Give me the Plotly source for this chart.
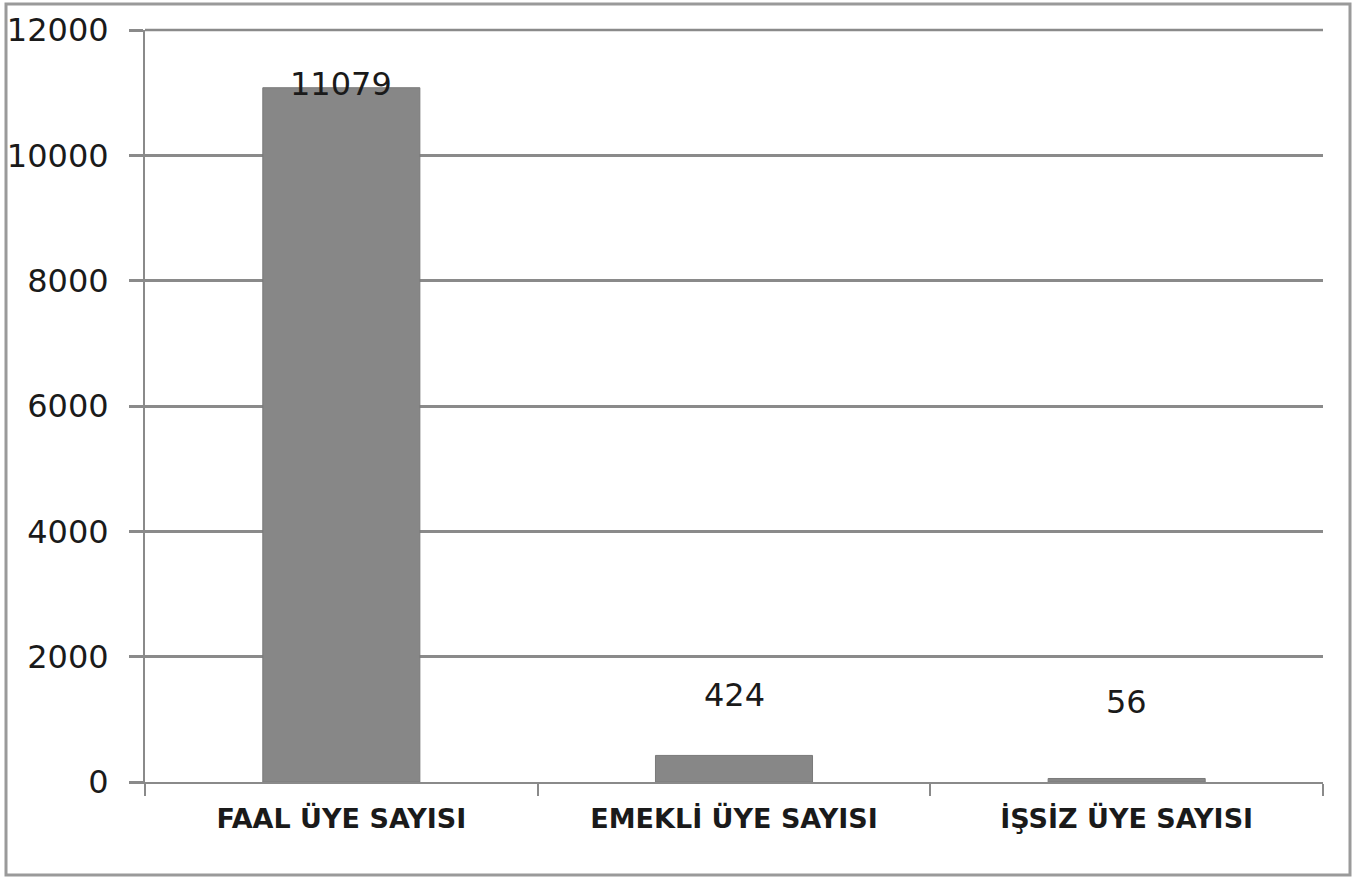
import plotly.graph_objects as go

categories = ["FAAL ÜYE SAYISI", "EMEKLİ ÜYE SAYISI", "İŞSİZ ÜYE SAYISI"]
values = [11079, 424, 56]
y_ticks = [0, 2000, 4000, 6000, 8000, 10000, 12000]

label_shift = [4, 60, 76]

W, H = 1358, 877
ML, MR, MT, MB = 145, 35, 30, 95
pw, ph = W - ML - MR, H - MT - MB

fig = go.Figure()
fig.add_trace(go.Bar(
    x=categories, y=values,
    marker=dict(color="#878787", line=dict(color="#7a7a7a", width=1)),
    width=0.4,
    showlegend=False,
))

for c, v, s in zip(categories, values, label_shift):
    fig.add_annotation(x=c, y=v, text=str(v), showarrow=False,
                       yanchor="middle", yshift=s,
                       font=dict(family="DejaVu Sans", size=32, color="#1a1a1a"))

def px_x(px):
    return (px - ML) / pw

def px_y(py):
    return (H - MB - py) / ph

fig.add_shape(type="rect", xref="paper", yref="paper",
              x0=px_x(6), x1=px_x(1350), y0=px_y(875), y1=px_y(4),
              line=dict(color="#9a9a9a", width=3), fillcolor="rgba(0,0,0,0)",
              layer="below")

# top gridline (at the axis maximum, top edge of the plot area)
fig.add_shape(type="line", xref="paper", yref="paper",
              x0=0, x1=1, y0=1, y1=1,
              line=dict(color="#8a8a8a", width=2.5), layer="below")

fig.update_layout(
    width=W, height=H,
    margin=dict(l=ML, r=MR, t=MT, b=MB, autoexpand=False),
    plot_bgcolor="white", paper_bgcolor="white",
    xaxis=dict(
        showgrid=False, showline=True, linecolor="#8a8a8a", linewidth=2,
        ticks="outside", tickson="boundaries", ticklen=12, tickcolor="#8a8a8a", tickwidth=2,
        tickfont=dict(family="DejaVu Sans", size=27, color="#1a1a1a", weight="bold"),
        ticklabelstandoff=12,
        range=[-0.5, 2.5],
    ),
    yaxis=dict(
        range=[0, 12000], tickvals=y_ticks, ticktext=[str(t) for t in y_ticks],
        showgrid=True, gridcolor="#8a8a8a", gridwidth=2.5,
        showline=True, linecolor="#8a8a8a", linewidth=2,
        ticks="outside", ticklen=14, tickcolor="#8a8a8a", tickwidth=2.5,
        tickfont=dict(family="DejaVu Sans", size=32, color="#1a1a1a"),
        ticklabelstandoff=14,
        zeroline=False,
    ),
)

fig.write_html("out.html", config={"displayModeBar": False},
               post_script="document.body.style.margin='0';document.body.style.padding='0';")
